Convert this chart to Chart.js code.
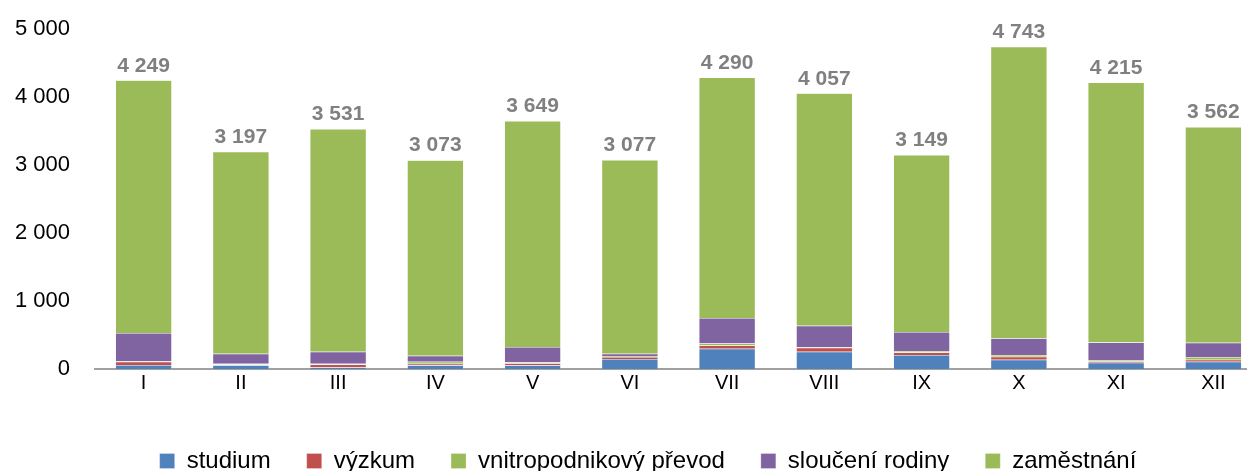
<!DOCTYPE html>
<html>
<head>
<meta charset="utf-8">
<script src="https://cdn.jsdelivr.net/npm/chart.js@4"></script>
<style>
  html, body { margin: 0; padding: 0; background: #fff; overflow: hidden; }
  .wrap { position: relative; width: 1262px; height: 480px; margin-top: -9px; }
</style>
</head>
<body>
<div class="wrap"><canvas id="chart"></canvas></div>
<script>
//DATA
const months      = ['I', 'II', 'III', 'IV', 'V', 'VI', 'VII', 'VIII', 'IX', 'X', 'XI', 'XII'];
const studium     = [60, 55, 25, 54, 54, 147, 298, 254, 205, 137, 93, 108];
const vyzkum      = [45, 10, 40, 24, 29, 29, 49, 59, 39, 44, 22, 29];
const vnitro      = [10, 12, 13, 29, 15, 15, 29, 10, 20, 24, 17, 39];
const slouceni    = [415, 147, 176, 88, 225, 34, 376, 313, 279, 249, 259, 210];
const zamestnani  = [3719, 2973, 3277, 2878, 3326, 2852, 3538, 3421, 2606, 4289, 3824, 3176];
const yTicks      = [0, 1000, 2000, 3000, 4000, 5000];

const FONT = '"Liberation Sans", Arial, sans-serif';
const fmt = v => String(v).replace(/\B(?=(\d{3})+(?!\d))/g, ' ');

// totals above each bar
const totalLabels = {
  id: 'totalLabels',
  afterDatasetsDraw(chart) {
    const { ctx } = chart;
    const top = chart.getDatasetMeta(chart.data.datasets.length - 1);
    ctx.save();
    ctx.font = 'bold 21px ' + FONT;
    ctx.fillStyle = '#808080';
    ctx.textAlign = 'center';
    ctx.textBaseline = 'bottom';
    months.forEach((m, i) => {
      const sum = chart.data.datasets.reduce((s, d) => s + d.data[i], 0);
      const bar = top.data[i];
      ctx.fillText(fmt(sum), bar.x, bar.y - 4);
    });
    ctx.restore();
  }
};

// keep the wide legend spacing but not the tall legend box, nudge it right
const legendFix = {
  id: 'legendFix',
  beforeInit(chart) {
    const fit = chart.legend.fit;
    chart.legend.fit = function () {
      fit.bind(chart.legend)();
      this.height = 58;
    };
  },
  afterLayout(chart) {
    chart.legend.left += 17;
    chart.legend.right += 17;
  }
};

const ds = (label, data, color) => ({
  label, data, backgroundColor: color,
  borderColor: 'rgba(255,255,255,0.5)', borderWidth: 0.5,
  barPercentage: 0.58, categoryPercentage: 1
});

new Chart(document.getElementById('chart'), {
  type: 'bar',
  data: {
    labels: months,
    datasets: [
      ds('studium', studium, '#4F81BD'),
      ds('výzkum', vyzkum, '#C0504D'),
      ds('vnitropodnikový převod', vnitro, '#9BBB59'),
      ds('sloučení rodiny', slouceni, '#8064A2'),
      ds('zaměstnání', zamestnani, '#9BBB59')
    ]
  },
  plugins: [totalLabels, legendFix],
  options: {
    responsive: true, maintainAspectRatio: false, animation: false,
    layout: { padding: { top: 2, left: 0, right: 0, bottom: 0 } },
    plugins: {
      tooltip: { enabled: false },
      legend: {
        position: 'bottom',
        labels: {
          color: '#000', boxWidth: 15, boxHeight: 15, padding: 36,
          font: { family: FONT, size: 24 }
        }
      }
    },
    scales: {
      x: {
        stacked: true,
        afterFit: axis => { axis.height = 44; },
        grid: { display: false, drawTicks: false },
        border: { color: '#a0a0a0', width: 2 },
        ticks: { color: '#000', padding: 2, font: { family: FONT, size: 20 } }
      },
      y: {
        stacked: true, min: 0, max: 5000,
        afterBuildTicks: axis => { axis.ticks = yTicks.map(v => ({ value: v })); },
        afterFit: axis => { axis.width = 95; },
        grid: { display: false, drawTicks: false },
        border: { display: false },
        ticks: { color: '#000', padding: 25, callback: v => fmt(v), font: { family: FONT, size: 22 } }
      }
    }
  }
});
</script>
</body>
</html>
